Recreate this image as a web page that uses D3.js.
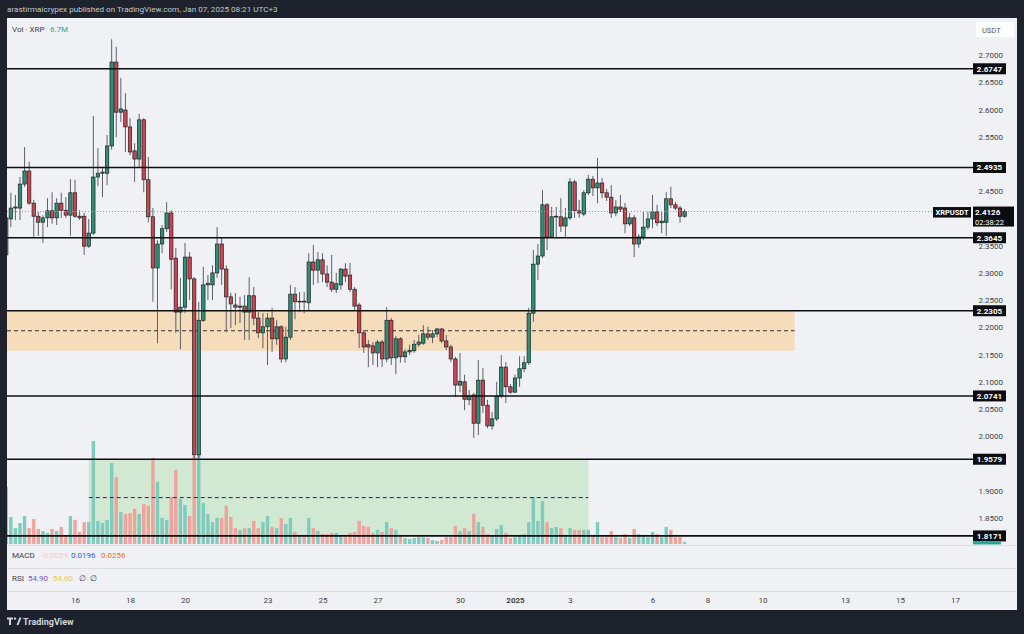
<!DOCTYPE html>
<html><head><meta charset="utf-8">
<script src="https://cdn.jsdelivr.net/npm/d3@7"></script>
<style>html,body{margin:0;padding:0;background:#1e222d;overflow:hidden}svg{display:block}</style>
</head><body>
<svg id="c" width="1024" height="634"></svg>
<script>
// ---------------- DATA ----------------
const firstCandle = "2024-12-13T12:00:00Z";
const intervalHours = 4;
const opens = [
2.333,2.399,2.419,2.419,2.463,2.487,2.428,2.404,2.393,2.401,
2.414,2.401,2.428,2.415,2.406,2.447,2.404,2.404,2.349,2.373,
2.476,2.483,2.483,2.533,2.687,2.595,2.599,2.568,2.524,2.509,
2.581,2.471,2.403,2.309,2.353,2.381,2.410,2.327,2.228,2.237,
2.329,2.289,1.966,2.213,2.278,2.278,2.300,2.353,2.307,2.256,
2.241,2.237,2.239,2.228,2.258,2.217,2.190,2.201,2.217,2.179,
2.201,2.142,2.182,2.261,2.247,2.248,2.245,2.320,2.305,2.324,
2.298,2.283,2.270,2.278,2.307,2.296,2.270,2.241,2.190,2.168,
2.166,2.153,2.173,2.142,2.213,2.144,2.179,2.146,2.155,2.157,
2.169,2.171,2.188,2.182,2.188,2.197,2.175,2.164,2.142,2.094,
2.100,2.067,2.076,2.024,2.103,2.057,2.019,2.032,2.074,2.127,
2.091,2.081,2.107,2.124,2.135,2.226,2.316,2.331,2.425,2.366,
2.403,2.403,2.386,2.401,2.467,2.414,2.408,2.447,2.472,2.456,
2.465,2.447,2.439,2.410,2.421,2.419,2.390,2.401,2.353,2.366,
2.384,2.399,2.412,2.392,2.393,2.436,2.425,2.419,2.404];
const highs = [
2.406,2.447,2.443,2.476,2.531,2.504,2.434,2.412,2.406,2.437,
2.448,2.437,2.447,2.439,2.472,2.471,2.415,2.410,2.399,2.588,
2.529,2.493,2.553,2.729,2.715,2.658,2.630,2.584,2.538,2.592,
2.584,2.513,2.419,2.360,2.388,2.430,2.415,2.346,2.291,2.355,
2.338,2.292,2.247,2.311,2.296,2.314,2.384,2.364,2.314,2.263,
2.263,2.256,2.259,2.292,2.274,2.228,2.226,2.226,2.236,2.213,
2.204,2.201,2.278,2.274,2.265,2.265,2.336,2.351,2.338,2.336,
2.314,2.333,2.300,2.309,2.318,2.318,2.274,2.245,2.195,2.177,
2.173,2.177,2.177,2.237,2.217,2.184,2.182,2.160,2.168,2.177,
2.186,2.204,2.201,2.195,2.199,2.199,2.186,2.168,2.146,2.153,
2.113,2.085,2.080,2.140,2.125,2.067,2.045,2.100,2.149,2.136,
2.096,2.113,2.147,2.147,2.236,2.342,2.353,2.452,2.428,2.421,
2.421,2.437,2.419,2.474,2.471,2.434,2.452,2.480,2.478,2.511,
2.474,2.454,2.461,2.434,2.443,2.428,2.410,2.406,2.371,2.412,
2.412,2.443,2.425,2.412,2.448,2.458,2.430,2.423,2.417];
const lows = [
2.327,2.384,2.397,2.397,2.458,2.425,2.366,2.368,2.355,2.384,
2.390,2.388,2.401,2.401,2.368,2.401,2.397,2.333,2.346,2.370,
2.459,2.439,2.461,2.526,2.549,2.577,2.522,2.516,2.467,2.493,
2.448,2.393,2.247,2.171,2.336,2.375,2.270,2.190,2.160,2.226,
2.250,1.960,1.960,2.210,2.250,2.250,2.291,2.278,2.191,2.199,
2.204,2.208,2.177,2.177,2.204,2.180,2.162,2.131,2.155,2.168,
2.135,2.136,2.177,2.215,2.228,2.226,2.230,2.278,2.281,2.283,
2.274,2.265,2.263,2.269,2.283,2.265,2.232,2.162,2.153,2.127,
2.131,2.127,2.127,2.136,2.131,2.114,2.135,2.135,2.149,2.153,
2.164,2.168,2.177,2.171,2.182,2.171,2.158,2.136,2.072,2.081,
2.048,2.057,1.997,2.002,2.043,2.015,2.012,2.028,2.070,2.061,
2.078,2.080,2.091,2.118,2.131,2.210,2.287,2.327,2.342,2.364,
2.364,2.375,2.366,2.397,2.401,2.401,2.404,2.443,2.441,2.428,
2.437,2.432,2.401,2.404,2.412,2.373,2.386,2.329,2.346,2.360,
2.379,2.382,2.386,2.373,2.368,2.419,2.415,2.392,2.401];
const closes = [
2.401,2.419,2.421,2.463,2.487,2.428,2.404,2.393,2.401,2.414,
2.401,2.428,2.415,2.406,2.447,2.404,2.401,2.349,2.373,2.476,
2.483,2.485,2.533,2.687,2.595,2.601,2.568,2.522,2.509,2.581,
2.471,2.403,2.309,2.353,2.381,2.410,2.325,2.228,2.237,2.329,
2.289,1.966,2.213,2.278,2.281,2.300,2.353,2.307,2.256,2.243,
2.237,2.239,2.228,2.258,2.217,2.190,2.201,2.217,2.179,2.201,
2.142,2.182,2.261,2.247,2.248,2.247,2.320,2.305,2.324,2.298,
2.283,2.270,2.280,2.307,2.294,2.270,2.239,2.190,2.164,2.164,
2.153,2.173,2.142,2.213,2.144,2.179,2.146,2.155,2.158,2.169,
2.173,2.188,2.182,2.188,2.197,2.175,2.164,2.142,2.094,2.101,
2.068,2.074,2.024,2.103,2.057,2.019,2.032,2.074,2.127,2.091,
2.081,2.107,2.124,2.135,2.226,2.316,2.331,2.425,2.366,2.403,
2.404,2.386,2.401,2.467,2.414,2.410,2.447,2.472,2.456,2.465,
2.447,2.439,2.410,2.421,2.417,2.390,2.401,2.353,2.366,2.384,
2.399,2.412,2.392,2.395,2.436,2.425,2.419,2.404,2.4126];
// volume in millions of XRP
const volumes = [
190,90,53,70,93,53,83,50,43,37,
50,43,57,30,93,80,40,73,73,343,
77,70,80,270,223,107,100,103,117,100,
133,127,287,207,87,80,157,247,150,130,
93,293,300,137,100,73,87,87,127,90,
53,47,53,53,77,53,73,93,57,53,
87,67,87,40,30,30,87,53,43,33,
33,37,37,27,27,37,40,77,60,57,
37,47,40,73,53,47,27,20,17,20,
23,23,20,13,10,13,23,23,60,43,
53,43,100,73,57,33,27,50,63,37,
20,23,27,33,73,157,77,143,73,53,
57,53,30,53,47,47,47,47,30,73,
23,23,43,23,20,33,20,50,33,27,
23,40,33,23,57,47,23,23,6.7];

const levels = [2.6747, 2.4935, 2.3645, 2.2305, 2.0741, 1.9579, 1.8171];
const lastPrice = 2.4126;
const countdown = "02:38:22";
// ticks that are not hidden behind the level / price labels
const priceTicks = [2.70,2.65,2.60,2.55,2.45,2.35,2.30,2.25,2.20,2.15,2.10,2.05,2.00,1.90,1.85];
const timeTickDates = ["2024-12-16","2024-12-18","2024-12-20","2024-12-23","2024-12-25","2024-12-27","2024-12-30","2025-01-01","2025-01-03","2025-01-06","2025-01-08","2025-01-10","2025-01-13","2025-01-15","2025-01-17"];
const timeTickLabels = ["16","18","20","23","25","27","30","2025","3","6","8","10","13","15","17"];
const orangeZone = ["2024-12-12T00:00:00Z","2025-01-11T04:00:00Z", 2.2305, 2.157];
const greenZone  = ["2024-12-16T12:00:00Z","2025-01-03T16:00:00Z", 1.9579, 1.8171];
const macdValues = ["-0.0059","0.0196","0.0256"];
const rsiValues = ["54.90","54.60","\u2205","\u2205"];

// ---------------- SETUP ----------------
const FONT = "Roboto, 'Liberation Sans', Arial, sans-serif";
const svg = d3.select("#c").style("font-family", FONT);
const W = 1024, H = 634;
const plotL = 7, plotR = 970, plotT = 18, plotB = 545, panelR = 1017, panelB = 610;

const x = d3.scaleUtc()
  .domain([new Date("2024-12-16T00:00:00Z"), new Date("2025-01-17T00:00:00Z")])
  .range([75, 955]);
const y = d3.scaleLinear().domain([1.85, 2.70]).range([518, 55]);
const yVol = d3.scaleLinear().domain([0, 400]).range([544, 424]);

const t0 = new Date(firstCandle).getTime();
const candles = opens.map((o, i) => ({
  t: new Date(t0 + i * intervalHours * 3600e3),
  o, h: highs[i], l: lows[i], c: closes[i], v: volumes[i]
}));
const step = x(new Date(t0 + intervalHours * 3600e3)) - x(new Date(t0));
const bodyW = step * 0.74;

// backgrounds
svg.append("rect").attr("width", W).attr("height", H).attr("fill", "#1e222d");
svg.append("rect").attr("x", plotL).attr("y", plotT).attr("width", panelR - plotL).attr("height", panelB - plotT).attr("fill", "#f0f1f4");

// header
svg.append("text").attr("x", 7).attr("y", 12).attr("font-size", 8.1).attr("fill", "#c4c7cf")
  .text("arastirmaicrypex published on TradingView.com, Jan 07, 2025 08:21 UTC+3");

// clip
svg.append("clipPath").attr("id", "pc").append("rect")
  .attr("x", plotL).attr("y", plotT).attr("width", plotR - plotL).attr("height", plotB - plotT);
const plot = svg.append("g").attr("clip-path", "url(#pc)");

// zones
function zone(z, fill) {
  const x0 = x(new Date(z[0])), x1 = x(new Date(z[1]));
  plot.append("rect").attr("x", x0).attr("y", y(z[2])).attr("width", x1 - x0)
    .attr("height", y(z[3]) - y(z[2])).attr("fill", fill);
}
zone(orangeZone, "#f5dcbb");
zone(greenZone, "#d1e8d3");

// volume bars
plot.append("g").selectAll("rect").data(candles).join("rect")
  .attr("x", d => x(d.t) - bodyW / 2).attr("width", bodyW)
  .attr("y", d => yVol(d.v)).attr("height", d => yVol(0) - yVol(d.v))
  .attr("fill", d => d.c >= d.o ? "#7fcbbe" : "#f1a39b");

// zone mid dashed lines
function mid(z) {
  plot.append("line").attr("x1", x(new Date(z[0]))).attr("x2", x(new Date(z[1])))
    .attr("y1", y((z[2] + z[3]) / 2)).attr("y2", y((z[2] + z[3]) / 2))
    .attr("stroke", "#2a2e39").attr("stroke-width", 1).attr("stroke-dasharray", "4,3");
}
mid(orangeZone); mid(greenZone);

// last price dotted line
svg.append("line").attr("x1", plotL).attr("x2", 933).attr("y1", y(lastPrice)).attr("y2", y(lastPrice))
  .attr("stroke", "#9598a1").attr("stroke-width", 1).attr("stroke-dasharray", "1,2");

// candles
const cg = plot.append("g");
cg.selectAll("line").data(candles).join("line")
  .attr("x1", d => x(d.t)).attr("x2", d => x(d.t))
  .attr("y1", d => y(d.h)).attr("y2", d => y(d.l))
  .attr("stroke", "#5d6068").attr("stroke-width", 1);
cg.selectAll("rect").data(candles).join("rect")
  .attr("x", d => x(d.t) - bodyW / 2).attr("width", bodyW)
  .attr("y", d => y(Math.max(d.o, d.c)))
  .attr("height", d => Math.max(0.8, Math.abs(y(d.o) - y(d.c))))
  .attr("fill", d => d.c >= d.o ? "#2f8f76" : "#c9454f")
  .attr("stroke", "#1d2024").attr("stroke-width", 0.7);

// level lines
svg.append("g").selectAll("line").data(levels).join("line")
  .attr("x1", plotL).attr("x2", 973).attr("y1", d => y(d)).attr("y2", d => y(d))
  .attr("stroke", "#0c0e12").attr("stroke-width", 1.6);

// pane separators
[545.5, 568.5, 591.5].forEach(v => svg.append("line").attr("x1", plotL).attr("x2", panelR)
  .attr("y1", v).attr("y2", v).attr("stroke", "#dcdee3").attr("stroke-width", 1));

// price axis
const pa = svg.append("g").attr("transform", "translate(1003,0)")
  .call(d3.axisLeft(y).tickValues(priceTicks).tickFormat(d3.format(".4f")).tickSize(0).tickPadding(0));
pa.select(".domain").remove();
pa.selectAll("text").attr("font-size", 8).attr("fill", "#3b3f4a").attr("font-family", FONT);

// USDT header box
svg.append("rect").attr("x", 976).attr("y", 22).attr("width", 38).attr("height", 15).attr("fill", "#ffffff");
svg.append("text").attr("x", 982).attr("y", 33).attr("font-size", 7.5).attr("fill", "#50535e").text("USDT");

// level label boxes
const lb = svg.append("g").selectAll("g").data(levels).join("g");
lb.append("rect").attr("x", 973).attr("width", 33).attr("y", d => y(d) - 5.5).attr("height", 11).attr("fill", "#0b0c0f");
lb.append("text").attr("x", 989.5).attr("y", d => y(d) + 3).attr("text-anchor", "middle")
  .attr("font-size", 8).attr("font-weight", 700).attr("fill", "#ffffff").text(d => d.toFixed(4));

// current price label
svg.append("rect").attr("x", 933).attr("y", y(lastPrice) - 4.5).attr("width", 38).attr("height", 10.5).attr("fill", "#0b0c0f");
svg.append("text").attr("x", 952).attr("y", y(lastPrice) + 3.5).attr("text-anchor", "middle")
  .attr("font-size", 7.5).attr("font-weight", 700).attr("fill", "#fff").text("XRPUSDT");
svg.append("rect").attr("x", 973).attr("y", y(lastPrice) - 5).attr("width", 41).attr("height", 20).attr("fill", "#0b0c0f");
svg.append("text").attr("x", 975).attr("y", y(lastPrice) + 3.5)
  .attr("font-size", 8).attr("font-weight", 700).attr("fill", "#fff").text(lastPrice.toFixed(4));
svg.append("text").attr("x", 975).attr("y", y(lastPrice) + 13)
  .attr("font-size", 7.5).attr("fill", "#fff").text(countdown);
// last volume marker on axis
svg.append("rect").attr("x", 973).attr("y", y(levels[6]) + 5.5).attr("width", 28).attr("height", 3).attr("fill", "#26a69a");

// time axis
const ta = svg.append("g").attr("transform", "translate(0,590)")
  .call(d3.axisBottom(x).tickValues(timeTickDates.map(s => new Date(s + "T00:00:00Z")))
    .tickFormat((d, i) => timeTickLabels[i]).tickSize(0).tickPadding(7));
ta.select(".domain").remove();
ta.selectAll("text").attr("font-size", 8).attr("fill", "#3b3f4a").attr("font-family", FONT)
  .attr("font-weight", (d, i) => timeTickLabels[i] === "2025" ? 700 : 400);

// legends
const lg = svg.append("g").attr("font-size", 8);
lg.append("text").attr("x", 12).attr("y", 32).attr("fill", "#3b3f4a").text("Vol \u00b7 XRP");
lg.append("text").attr("x", 50).attr("y", 32).attr("fill", "#26a69a").text("6.7M");
lg.append("text").attr("x", 12).attr("y", 558).attr("fill", "#3b3f4a").text("MACD");
const macdCols = ["#f6c6cb", "#2962ff", "#ff6d00"];
const macdX = [41, 71, 101];
macdValues.forEach((v, i) => lg.append("text").attr("x", macdX[i]).attr("y", 558).attr("fill", macdCols[i]).text(v));
lg.append("text").attr("x", 12).attr("y", 581).attr("fill", "#3b3f4a").text("RSI");
const rsiCols = ["#7e57c2", "#f3c64d", "#3b3f4a", "#3b3f4a"];
const rsiX = [28, 53, 79, 90];
rsiValues.forEach((v, i) => lg.append("text").attr("x", rsiX[i]).attr("y", 581).attr("fill", rsiCols[i]).text(v));

// TradingView logo
const logo = svg.append("g").attr("fill", "#d1d4dc");
logo.append("path").attr("d", "M7,617.5 h6 v2 h-2 v5.5 h-2 v-5.5 h-2 z");
logo.append("circle").attr("cx", 15).attr("cy", 618.6).attr("r", 1.2);
logo.append("path").attr("d", "M16.5,625 L19.5,617.5 L21.5,617.5 L18.5,625 z");
svg.append("text").attr("x", 23).attr("y", 624.5).attr("font-size", 9).attr("font-weight", 700)
  .attr("fill", "#d1d4dc").text("TradingView");
</script>
</body></html>
